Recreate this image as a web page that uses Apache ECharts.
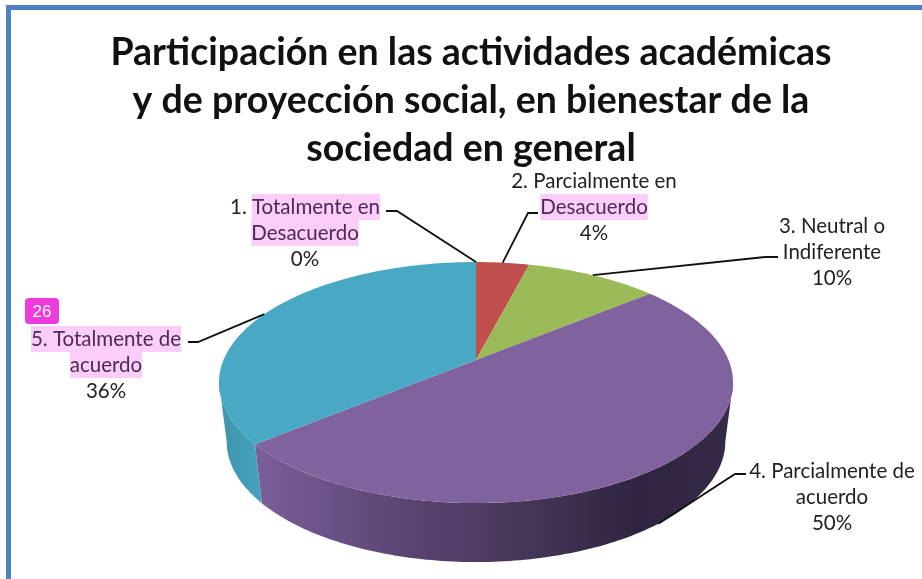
<!DOCTYPE html>
<html>
<head>
<meta charset="utf-8">
<style>
html, body { margin: 0; padding: 0; background: #fff; }
#chart { width: 922px; height: 579px; }
</style>
<script src="https://cdn.jsdelivr.net/npm/echarts@6/dist/echarts.min.js"></script>
</head>
<body>
<div id="chart"></div>
<script>
// datos
var categories = [
	'1. Totalmente en\nDesacuerdo',
	'2. Parcialmente en\nDesacuerdo',
	'3. Neutral o\nIndiferente',
	'4. Parcialmente de\nacuerdo',
	'5. Totalmente de\nacuerdo'
];
var values = [0, 4, 10, 50, 36];
var highlighted = [
	['Totalmente en', 'Desacuerdo'],
	['Desacuerdo'],
	[],
	[],
	['5. Totalmente de', 'acuerdo']
];
var titleText = 'Participación en las actividades académicas\ny de proyección social, en bienestar de la\nsociedad en general';

// estilos
var sliceColors = ['#c0504d', '#c0504d', '#9bbb59', '#7f629e', '#49a8c3'];
var wallColors = [
	null, null, null,
	[[0, '#7a5e99'], [0.3, '#5c4674'], [0.6, '#433455'], [0.8, '#2f2440'], [1, '#372a46']],
	[[0, '#3f93ab'], [1, '#46a3bd']]
];
// centro del texto y codo de cada linea guia
var labelCenters = [[305, 233], [594, 207], [832, 252], [832, 497], [106, 365]];
var elbows = [
	[[386, 211], [397, 211]],
	[[538, 213], [528, 213]],
	[[778, 257], [765, 257]],
	[[746, 474], [735, 474]],
	[[188, 342], [198, 342]]
];

// geometria del pastel en perspectiva
var CX = 476, CY = 360, RX = 252.5, RY = 116.3, PERSP = 0.187, DEPTH = 59, BOTTOM_SCALE = 0.97;
// parte frontal de la pared, entre los dos extremos laterales de la elipse
var FRONT_FROM = Math.acos(-PERSP) / (Math.PI * 2) * 100;
var FRONT_TO = 100 - FRONT_FROM;

function project(share, drop) {
	var a = share / 100 * Math.PI * 2;
	var w = 1 + PERSP * Math.cos(a);
	var rx = drop ? RX * BOTTOM_SCALE : RX;
	return [
		CX + rx * Math.sin(a) / w,
		CY - RY * Math.cos(a) / w + (drop || 0)
	];
}

function arcPoints(from, to, drop) {
	var pts = [];
	var n = Math.max(2, Math.ceil((to - from) * 3.6));
	for (var i = 0; i <= n; i++) {
		pts.push(project(from + (to - from) * i / n, drop));
	}
	return pts;
}

function renderSlice(params, api) {
	var i = params.dataIndex;
	var from = 0;
	for (var k = 0; k < i; k++) {
		from += values[k];
	}
	var to = from + values[i];
	var mid = (from + to) / 2;
	var children = [];

	if (values[i] > 0) {
		var wallFrom = Math.max(from, FRONT_FROM);
		var wallTo = Math.min(to, FRONT_TO);
		if (wallColors[i] && wallTo > wallFrom) {
			var wall = arcPoints(wallFrom, wallTo, 0).concat(arcPoints(wallFrom, wallTo, DEPTH).reverse());
			var stops = wallColors[i].map(function (s) {
				return { offset: s[0], color: s[1] };
			});
			children.push({
				type: 'polygon',
				z2: 1,
				shape: { points: wall },
				style: { fill: new echarts.graphic.LinearGradient(0, 0, 1, 0, stops) }
			});
		}
		children.push({
			type: 'polygon',
			z2: 2,
			shape: { points: [[CX, CY]].concat(arcPoints(from, to, 0)) },
			style: { fill: sliceColors[i] }
		});
	}

	// linea guia: la 4 termina en el borde inferior de la pared
	var end = project(mid, i === 3 ? DEPTH : 0);
	children.push({
		type: 'polyline',
		z2: 3,
		shape: { points: elbows[i].concat([end]) },
		style: { fill: 'none', stroke: '#111', lineWidth: 1.8 }
	});

	var text = categories[i];
	highlighted[i].forEach(function (h) {
		text = text.replace(h, '{hl|' + h + '}');
	});
	children.push({
		type: 'text',
		z2: 4,
		x: labelCenters[i][0],
		y: labelCenters[i][1],
		style: {
			text: text + '\n' + values[i] + '%',
			fontFamily: 'Lato',
			fontSize: 20.5,
			lineHeight: 26,
			fill: '#222',
			align: 'center',
			verticalAlign: 'middle',
			rich: {
				hl: {
					fontFamily: 'Lato',
					fontSize: 20.5,
					lineHeight: 26,
					height: 26,
					fill: '#4a2a58',
					backgroundColor: '#fbcdf8'
				}
			}
		}
	});

	return { type: 'group', children: children };
}

var chart = echarts.init(document.getElementById('chart'));

var option = {
	animation: false,
	backgroundColor: '#fff',
	title: {
		text: titleText,
		left: 466,
		top: 24,
		textAlign: 'center',
		textStyle: {
			fontFamily: 'Lato',
			fontWeight: 'bold',
			fontSize: 37.5,
			lineHeight: 48,
			color: '#111'
		}
	},
	graphic: [
		{
			type: 'rect',
			shape: { x: 8.5, y: 7.5, width: 1000, height: 700 },
			style: { fill: 'none', stroke: '#4e80c2', lineWidth: 5 }
		},
		{
			type: 'rect',
			shape: { x: 25, y: 298, width: 34, height: 26, r: 4 },
			style: { fill: '#ee3bdc' }
		},
		{
			type: 'text',
			x: 42,
			y: 312,
			style: {
				text: '26',
				fontFamily: 'Liberation Sans',
				fontSize: 17,
				fill: '#fff',
				align: 'center',
				verticalAlign: 'middle'
			}
		}
	],
	series: [{
		type: 'custom',
		coordinateSystem: 'none',
		data: values,
		renderItem: renderSlice
	}]
};

chart.setOption(option);
</script>
</body>
</html>
